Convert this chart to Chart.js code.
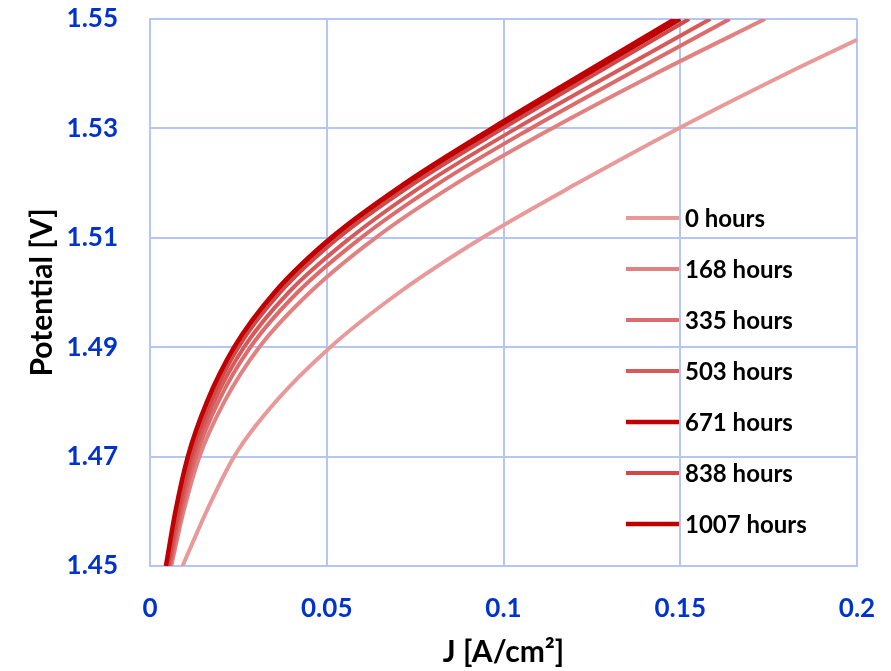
<!DOCTYPE html>
<html>
<head>
<meta charset="utf-8">
<script src="https://cdn.jsdelivr.net/npm/chart.js@4"></script>
<style>
  body { margin: 0; background: #fff; }
  #wrap { width: 891px; height: 671px; }
</style>
</head>
<body>
<div id="wrap"><canvas id="chart"></canvas></div>
<script>
// Series names (hours of operation)
const seriesLabels = ['0 hours', '168 hours', '335 hours', '503 hours', '671 hours', '838 hours', '1007 hours'];
const seriesColors = ['#e89a9a', '#e08282', '#dc6c6c', '#d65a5a', '#c00000', '#d04848', '#c00000'];

// Potential levels [V] where each curve was read
const potentialLevels = [1.45, 1.46, 1.47, 1.48, 1.49, 1.50, 1.51, 1.52, 1.53, 1.54, 1.55];
const potential0h = [1.45, 1.46, 1.47, 1.48, 1.49, 1.50, 1.51, 1.52, 1.53, 1.54, 1.5462];

// Current density J [A/cm2] at those levels
const j0h    = [0.0092, 0.0160, 0.0238, 0.0355, 0.0510, 0.0705, 0.0940, 0.1210, 0.1495, 0.1800, 0.2000];
const j168h  = [0.0060, 0.0095, 0.0140, 0.0210, 0.0309, 0.0452, 0.0638, 0.0868, 0.1137, 0.1430, 0.1740];
const j335h  = [0.0056, 0.0089, 0.0130, 0.0193, 0.0284, 0.0417, 0.0597, 0.0818, 0.1077, 0.1355, 0.1640];
const j503h  = [0.0053, 0.0084, 0.0122, 0.0181, 0.0266, 0.0392, 0.0567, 0.0782, 0.1036, 0.1308, 0.1585];
const j671h  = [0.0047, 0.0075, 0.0110, 0.0165, 0.0243, 0.0359, 0.0521, 0.0734, 0.0982, 0.1240, 0.1500];
const j838h  = [0.0050, 0.0079, 0.0115, 0.0171, 0.0250, 0.0368, 0.0533, 0.0748, 0.0998, 0.1260, 0.1525];
const j1007h = [0.0045, 0.0072, 0.0107, 0.0161, 0.0238, 0.0352, 0.0512, 0.0722, 0.0967, 0.1225, 0.1485];

const currentSeries = [j0h, j168h, j335h, j503h, j671h, j838h, j1007h];

const gridColor = '#b4c6f7';
const tickColor = '#0033cc';
const fontName = 'Lato';

// Pairs J with potential for one curve
const toPoints = (js, vs) => js.map((j, i) => ({ x: j, y: vs[i] }));

const datasets = currentSeries.map((js, i) => ({
  label: seriesLabels[i],
  data: toPoints(js, i === 0 ? potential0h : potentialLevels),
  borderColor: seriesColors[i],
  backgroundColor: seriesColors[i],
  borderWidth: seriesColors[i] === '#c00000' ? 4.5 : 4,
  pointRadius: 0,
  cubicInterpolationMode: 'monotone',
  order: seriesLabels.length - i,
}));

// Legend drawn inside the plot, one row per series
const insideLegend = {
  id: 'insideLegend',
  afterDatasetsDraw(chart) {
    const { ctx, chartArea } = chart;
    const x0 = chartArea.left + 476;
    const y0 = chartArea.top + 199;
    ctx.save();
    ctx.font = 'bold 24px ' + fontName;
    ctx.textBaseline = 'middle';
    ctx.fillStyle = '#000';
    chart.data.datasets.forEach((ds, i) => {
      const y = y0 + i * 51;
      ctx.strokeStyle = ds.borderColor;
      ctx.lineWidth = ds.borderWidth;
      ctx.beginPath();
      ctx.moveTo(x0, y);
      ctx.lineTo(x0 + 53, y);
      ctx.stroke();
      ctx.fillText(ds.label, x0 + 59, y + 1);
    });
    ctx.restore();
  },
};

// Chart.js pads the area for tick labels; the plot box is fixed here instead
const noPadding = (s) => {
  s.paddingTop = 0;
  s.paddingBottom = 0;
  s.paddingLeft = 0;
  s.paddingRight = 0;
};

new Chart(document.getElementById('chart'), {
  type: 'line',
  data: { datasets },
  options: {
    responsive: true,
    maintainAspectRatio: false,
    animation: false,
    layout: { padding: { top: 19, right: 34, left: 0, bottom: 0 } },
    plugins: {
      legend: { display: false },
      tooltip: { enabled: false },
    },
    scales: {
      x: {
        type: 'linear',
        min: 0,
        max: 0.2,
        afterFit: (s) => { s.height = 105; noPadding(s); },
        ticks: {
          stepSize: 0.05,
          color: tickColor,
          padding: 27,
          font: { family: fontName, size: 26, weight: 'bold' },
          callback: (v) => String(Math.round(v * 100) / 100),
        },
        grid: { color: gridColor, lineWidth: 2, drawTicks: false },
        border: { color: gridColor, width: 2 },
        title: {
          display: true,
          text: 'J [A/cm²]',
          color: '#000',
          font: { family: fontName, size: 30, weight: 'bold' },
          padding: { top: 0, bottom: 1 },
        },
      },
      y: {
        min: 1.45,
        max: 1.55,
        afterFit: (s) => { s.width = 150; noPadding(s); },
        ticks: {
          stepSize: 0.02,
          color: tickColor,
          padding: 32,
          font: { family: fontName, size: 26, weight: 'bold' },
          callback: (v) => v.toFixed(2),
        },
        grid: { color: gridColor, lineWidth: 2, drawTicks: false },
        border: { color: gridColor, width: 2 },
        title: {
          display: true,
          text: 'Potential [V]',
          color: '#000',
          font: { family: fontName, size: 30, weight: 'bold' },
          padding: { top: 24, bottom: 0 },
        },
      },
    },
  },
  plugins: [insideLegend],
});
</script>
</body>
</html>
